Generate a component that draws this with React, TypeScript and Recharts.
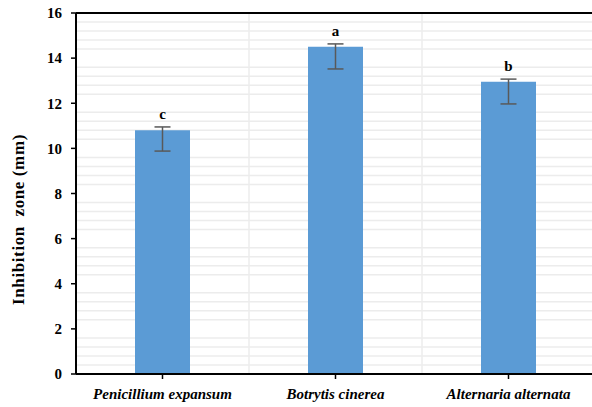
import React from 'react';
import { BarChart, Bar, XAxis, YAxis, CartesianGrid, ErrorBar, LabelList, Label, ReferenceLine } from 'recharts';

const categories = ['Penicillium expansum', 'Botrytis cinerea', 'Alternaria alternata'];
const means = [10.8, 14.5, 12.95];
const errMinus = [0.92, 0.98, 0.98];
const errPlus = [0.15, 0.13, 0.12];
const letters = ['c', 'a', 'b'];
const yTicks = [0, 2, 4, 6, 8, 10, 12, 14, 16];
const minorTicks = Array.from({ length: 41 }, (_, i) => Math.round(i * 0.4 * 10) / 10).filter((v) => !yTicks.includes(v));

const data = categories.map((name, i) => ({
  name,
  value: means[i],
  err: [errMinus[i], errPlus[i]],
  letter: letters[i],
}));

const FONT = '"Liberation Serif", "Times New Roman", serif';
const W = 595;
const H = 407;
const MARGIN = { top: 13, right: 0, bottom: 0, left: 0 };

const LetterLabel = (props: any) => {
  const { x, y, width, height, value } = props;
  const idx = means.indexOf(value);
  if (idx < 0) return null;
  const pxPerUnit = height / value;
  const top = y - errPlus[idx] * pxPerUnit;
  return (
    <text x={x + width / 2} y={top - 8} textAnchor="middle" fontFamily={FONT} fontWeight="bold" fontSize={15} fill="#000">
      {letters[idx]}
    </text>
  );
};

const YLabel = (props: any) => {
  const vb = props.viewBox || { x: 0, y: 13, width: 76, height: 361 };
  const cx = vb.x + 18;
  const cy = vb.y + vb.height / 2 + 26;
  return (
    <text x={cx} y={cy} transform={`rotate(-90 ${cx} ${cy})`} textAnchor="middle" dominantBaseline="central" fontFamily={FONT} fontWeight="bold" fontSize={17} letterSpacing={0.6} fill="#000" style={{ whiteSpace: 'pre' }}>
      {'Inhibition  zone (mm)'}
    </text>
  );
};

const XTick = (props: any) => {
  const { x, y, payload } = props;
  return (
    <text x={x} y={y} dy="0.71em" textAnchor="middle" fontFamily={FONT} fontWeight="bold" fontStyle="italic" fontSize={15} fill="#000">
      {payload.value}
    </text>
  );
};

export default function App() {
  return (
    <div style={{ position: 'absolute', left: 0, top: 0, width: 592, height: 407, overflow: 'hidden', background: '#fff' }}>
      {/* background layer: major gridlines beneath the bars */}
      <div style={{ position: 'absolute', left: 0, top: 0 }}>
        <BarChart width={W} height={H} data={data} margin={MARGIN}>
          <XAxis dataKey="name" height={33} tick={false} axisLine={false} tickLine={false} />
          <YAxis width={76} domain={[0, 16]} ticks={yTicks} tick={false} axisLine={false} tickLine={false} />
          {yTicks.slice(1, -1).map((t) => (
            <ReferenceLine key={t} y={t} stroke="#d2d2d2" strokeWidth={2} />
          ))}
        </BarChart>
      </div>
      {/* foreground layer */}
      <div style={{ position: 'absolute', left: 0, top: 0 }}>
        <BarChart width={W} height={H} data={data} margin={MARGIN}>
          <CartesianGrid
            horizontalValues={minorTicks}
            stroke="#ececec"
            strokeWidth={1.5}
            verticalCoordinatesGenerator={({ offset }: any) => [offset.left + offset.width / 3, offset.left + (2 * offset.width) / 3]}
          />
          <ReferenceLine y={16} stroke="#000" strokeWidth={2} />
          <XAxis
            dataKey="name"
            height={33}
            axisLine={{ stroke: '#000', strokeWidth: 2 }}
            tickLine={{ stroke: '#000', strokeWidth: 1.5 }}
            tickSize={5}
            tickMargin={9}
            tick={<XTick />}
            interval={0}
          />
          <YAxis
            width={76}
            domain={[0, 16]}
            ticks={yTicks}
            interval={0}
            axisLine={{ stroke: '#000', strokeWidth: 2 }}
            tickLine={{ stroke: '#000', strokeWidth: 1.5 }}
            tickSize={5}
            tickMargin={9}
            tick={{ fontFamily: FONT, fontWeight: 'bold', fontSize: 15, fill: '#000' }}
          >
            <Label content={<YLabel />} />
          </YAxis>
          <Bar dataKey="value" fill="#5B9BD5" barSize={55} isAnimationActive={false}>
            <ErrorBar dataKey="err" width={8} stroke="#595959" strokeWidth={1.5} direction="y" />
            <LabelList dataKey="value" content={<LetterLabel />} />
          </Bar>
        </BarChart>
      </div>
    </div>
  );
}
